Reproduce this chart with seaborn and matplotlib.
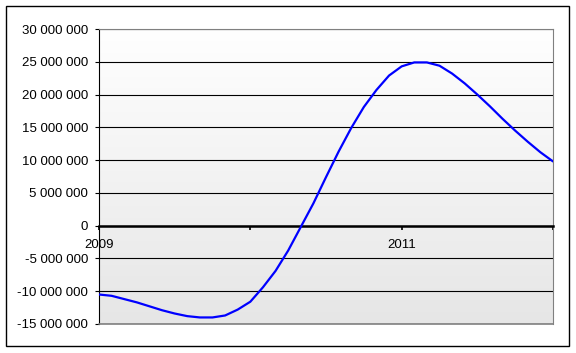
import numpy as np
import pandas as pd
import matplotlib
matplotlib.use("Agg")
import matplotlib.pyplot as plt
import seaborn as sns
from matplotlib.patches import Rectangle
from matplotlib.colors import LinearSegmentedColormap
from matplotlib.ticker import FuncFormatter, FixedLocator

# ---- data (monthly, millions) ----
months = list(range(37))
values_m = [-10.5, -10.7, -11.2, -11.7, -12.3, -12.9, -13.4, -13.8, -14.0, -14.0,
            -13.7, -12.8, -11.6, -9.4, -6.9, -3.8, -0.2, 3.4, 7.4, 11.3,
            14.9, 18.1, 20.7, 22.9, 24.3, 24.9, 24.9, 24.4, 23.2, 21.7,
            20.0, 18.2, 16.3, 14.5, 12.8, 11.2, 9.8]
start_year = 2009
tick_years = [2009, 2010, 2011, 2012]
tick_labels = ["2009", "", "2011", ""]
y_ticks_m = [-15, -10, -5, 0, 5, 10, 15, 20, 25, 30]

sns.set_theme(style="white")
plt.rcParams['font.family'] = ['Liberation Sans', 'DejaVu Sans']

df = pd.DataFrame({
    "date": [start_year + m / 12 for m in months],
    "value": [v * 1e6 for v in values_m],
})

W, H = 576, 353
fig = plt.figure(figsize=(W / 100, H / 100), dpi=100)
fig.patch.set_facecolor("white")
L, R, T, B = 99, 553, 29, 324
ax = fig.add_axes([L / W, 1 - B / H, (R - L) / W, (B - T) / H])

# gradient plot area
cmap = LinearSegmentedColormap.from_list("g", ["#ffffff", "#e6e6e6"])
ax.imshow(np.linspace(0, 1, 256).reshape(-1, 1), extent=[0, 1, 0, 1],
          transform=ax.transAxes, cmap=cmap, aspect="auto", zorder=0,
          interpolation="bilinear")

sns.lineplot(data=df, x="date", y="value", ax=ax, color="#0000ff",
             linewidth=1.6, zorder=5)

ax.set_xlim(tick_years[0], tick_years[-1])
ax.set_ylim(y_ticks_m[0] * 1e6, y_ticks_m[-1] * 1e6)
ax.set_xlabel("")
ax.set_ylabel("")

ax.yaxis.set_major_locator(FixedLocator([v * 1e6 for v in y_ticks_m]))
ax.yaxis.set_major_formatter(FuncFormatter(lambda v, p: f"{int(round(v)):,}".replace(",", " ")))
ax.set_xticks(tick_years)
ax.set_xticklabels(tick_labels)

ax.set_axisbelow(True)
ax.yaxis.grid(True, color="black", linewidth=0.8)
ax.xaxis.grid(False)

ax.spines["bottom"].set_position(("data", 0))
ax.spines["bottom"].set_color("black")
ax.spines["bottom"].set_linewidth(1.8)
ax.spines["bottom"].set_zorder(4)
ax.spines["left"].set_color("black")
ax.spines["left"].set_linewidth(0.8)
for s in ("top", "right"):
    ax.spines[s].set_color("#808080")
    ax.spines[s].set_linewidth(0.8)
ax.axhline(y_ticks_m[0] * 1e6, color="#808080", linewidth=1.2, clip_on=False, zorder=3)

ax.tick_params(axis="y", direction="out", length=3, width=0.8, color="black",
               pad=5, labelsize=9.5, labelcolor="black", left=True)
ax.tick_params(axis="x", direction="out", length=3, width=1.2, color="black",
               pad=6.5, labelsize=9.5, labelcolor="black", bottom=True)

# figure border
fig.patches.append(Rectangle((6 / W, 1 - 346 / H), (569 - 6) / W, (346 - 6) / H,
                             transform=fig.transFigure, fill=False,
                             edgecolor="black", linewidth=1))

fig.savefig("out.png", dpi=100)
